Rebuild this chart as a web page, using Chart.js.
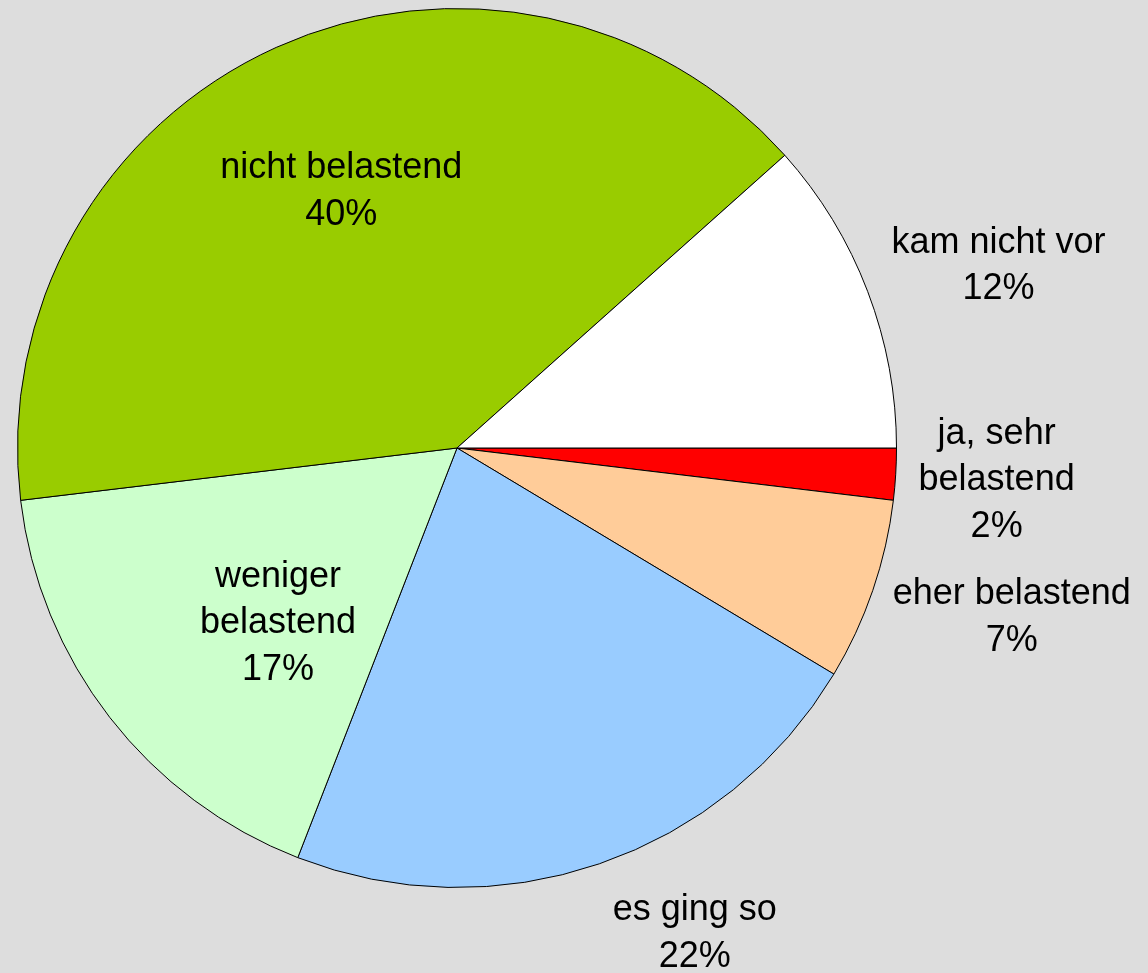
<!DOCTYPE html>
<html>
<head>
<meta charset="utf-8">
<script src="https://cdn.jsdelivr.net/npm/chart.js@4"></script>
<style>
    html, body { margin: 0; padding: 0; background: #dddddd; }
    #wrap { width: 1148px; height: 973px; }
</style>
</head>
<body>
<div id="wrap"><canvas id="graficaTorta"></canvas></div>
<script>
// Datos del gráfico (porcentajes)
const categorias = [
    ['ja, sehr', 'belastend'],
    ['eher belastend'],
    ['es ging so'],
    ['weniger', 'belastend'],
    ['nicht belastend'],
    ['kam nicht vor']
];
const valores = [1.9, 6.7, 22.3, 17.2, 40.3, 11.6];
const colores = ['#ff0000', '#ffcc99', '#99ccff', '#ccffcc', '#99cc00', '#ffffff'];

// posición de etiquetas: factor de radio y ajuste de ángulo (grados)
const factorRadio = [1.23, 1.32, 1.23, 0.57, 0.64, 1.30];
const ajusteAngulo = [0, -1.9, -7.2, -6.6, 0, 2.3];

const etiquetasPlugin = {
    id: 'etiquetas',
    afterDatasetsDraw(chart) {
        const ctx = chart.ctx;
        const arcos = chart.getDatasetMeta(0).data;
        const total = valores.reduce((a, b) => a + b, 0);
        ctx.save();
        ctx.font = '36px "Liberation Sans", Arial, sans-serif';
        ctx.fillStyle = '#000';
        ctx.textAlign = 'center';
        ctx.textBaseline = 'middle';
        const altoLinea = 46.5;
        arcos.forEach((arco, i) => {
            const p = arco.getProps(['x', 'y', 'startAngle', 'endAngle', 'outerRadius'], true);
            const medio = (p.startAngle + p.endAngle) / 2 + ajusteAngulo[i] * Math.PI / 180;
            const r = p.outerRadius * factorRadio[i];
            const cx = p.x + Math.cos(medio) * r;
            const cy = p.y + Math.sin(medio) * r;
            const lineas = categorias[i].concat([Math.round(valores[i] / total * 100) + '%']);
            const inicio = cy - (lineas.length - 1) * altoLinea / 2;
            lineas.forEach((l, j) => {
                ctx.fillText(l, cx, inicio + j * altoLinea);
            });
        });
        ctx.restore();
    }
};

const ctxTorta = document.getElementById('graficaTorta').getContext('2d');
const graficaTorta = new Chart(ctxTorta, {
    type: 'pie',
    data: {
        labels: categorias.map(c => c.join(' ')),
        datasets: [{
            data: valores,
            backgroundColor: colores,
            borderColor: '#000000',
            borderWidth: 1
        }]
    },
    options: {
        responsive: true,
        maintainAspectRatio: false,
        animation: false,
        rotation: 90,
        layout: {
            padding: { left: 17, top: 8, right: 251, bottom: 85 }
        },
        plugins: {
            legend: { display: false },
            tooltip: { enabled: false }
        }
    },
    plugins: [etiquetasPlugin]
});
</script>
</body>
</html>
